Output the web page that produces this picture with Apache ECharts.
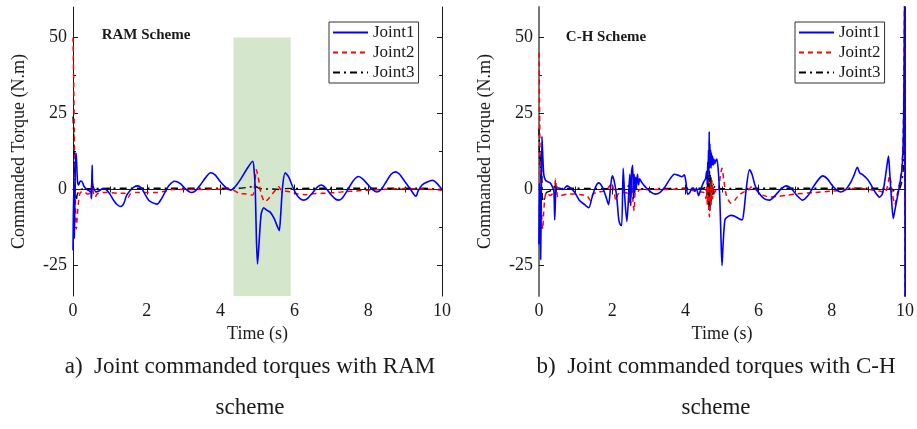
<!DOCTYPE html>
<html>
<head>
<meta charset="utf-8">
<script src="https://cdn.jsdelivr.net/npm/echarts@6/dist/echarts.min.js"></script>
<style>
  html, body { margin: 0; padding: 0; background: #fff; }
  #chart { width: 917px; height: 429px; }
</style>
</head>
<body>
<div id="chart"></div>
<script>
// tick labels
var xTicks = [0, 2, 4, 6, 8, 10];
var yMajorTicks = [-25, 0, 25, 50];
var yMinorTicks = [-12.5, 12.5, 37.5];
var seriesNames = ['Joint1', 'Joint2', 'Joint3'];
var highlightSpan = [4.35, 5.9];

// RAM scheme, [time, torque]
var ramJoint1 = [[0,-20],[0.02,2],[0.035,-16],[0.05,-5],[0.07,12],[0.09,11],[0.12,3],[0.15,1.5],[0.2,2.8],[0.25,2.5],[0.3,1],[0.38,0],[0.45,-0.5],[0.49,-1],[0.5,-3],[0.51,3],[0.52,8],[0.53,2],[0.56,0.5],[0.62,-0.8],[0.7,-0.5],[0.8,0.3],[0.9,0],[1.0,-1.5],[1.1,-3.5],[1.2,-5],[1.3,-5.6],[1.38,-4.5],[1.45,-2],[1.55,-0.3],[1.65,0.8],[1.75,1.2],[1.85,0.5],[1.95,-1.5],[2.05,-3.5],[2.15,-4.3],[2.28,-4.8],[2.4,-3],[2.5,-0.8],[2.6,1.3],[2.75,2.7],[2.9,2],[3.05,0.2],[3.2,-1],[3.3,-0.6],[3.45,1.5],[3.6,4],[3.73,5.5],[3.85,4.8],[4.0,2.5],[4.15,0.6],[4.27,-0.2],[4.4,1],[4.55,3.5],[4.7,6.5],[4.87,9.3],[4.91,6],[4.94,0],[4.97,-16],[5.0,-24.5],[5.04,-18],[5.1,-8],[5.17,-6],[5.25,-6.8],[5.35,-7.5],[5.45,-9.5],[5.55,-12.5],[5.59,-13.5],[5.63,-8],[5.68,1],[5.75,5.5],[5.85,4],[5.95,1],[6.05,-1.5],[6.15,-3],[6.25,-3.5],[6.35,-3],[6.5,-1],[6.62,0.8],[6.73,1.5],[6.85,0.5],[7.0,-1.8],[7.12,-3.2],[7.2,-3.5],[7.3,-2.8],[7.45,0],[7.6,3],[7.74,4.3],[7.85,3.5],[8.0,1.5],[8.12,0],[8.24,-0.8],[8.35,0],[8.5,2.8],[8.62,5],[8.74,5.8],[8.85,5],[9.0,2.5],[9.15,0],[9.25,-1.8],[9.3,-2.2],[9.35,-0.5],[9.46,1.5],[9.6,2.5],[9.75,3],[9.85,2.2],[9.95,0.8],[10,0]];
var ramJoint2 = [[0,50],[0.02,35],[0.04,14],[0.06,-2],[0.09,-13],[0.12,-8],[0.16,-3],[0.2,-1],[0.3,-0.8],[0.4,-1.5],[0.48,-1],[0.5,1],[0.52,3],[0.55,-1],[0.6,-2.5],[0.65,-1.5],[0.75,-1],[0.9,-1],[1.2,-1.2],[1.4,-1.2],[1.5,-2.5],[1.55,-1.5],[1.7,-1],[2.0,-1],[2.3,-1],[2.5,-0.5],[2.7,0],[3.0,0],[3.5,0],[4.0,0.1],[4.3,0],[4.5,-1.2],[4.7,-1.5],[4.87,-1.8],[4.92,1],[4.97,6.5],[5.02,4],[5.1,-1.5],[5.2,-4],[5.3,-3],[5.4,-1.5],[5.5,0],[5.57,1],[5.63,0],[5.75,-0.5],[5.9,-0.8],[6.1,-1.5],[6.3,-1.7],[6.5,-1.4],[7.0,-1.1],[7.5,-0.6],[8.0,-0.2],[8.5,0.1],[9.0,0.3],[9.5,0.2],[10,-0.2]];
var ramJoint3 = [[0,24],[0.02,18],[0.04,8],[0.06,0],[0.09,-3.5],[0.12,-1.5],[0.2,0],[0.3,0.2],[0.45,0.3],[0.49,0.3],[0.5,-3],[0.51,3],[0.53,0.3],[1,0.4],[2,0.4],[3,0.4],[4,0.4],[4.5,0.4],[4.95,1],[5.05,0.3],[5.6,0],[5.65,-1],[5.72,0.3],[6.5,0.4],[8,0.4],[9,0.4],[9.5,0.4],[10,0]];

// C-H scheme, [time, torque]
var chJoint1 = [[0,-18],[0.015,2],[0.03,-10],[0.045,-23],[0.06,-5],[0.08,17.5],[0.1,12],[0.13,5],[0.18,3],[0.25,2.5],[0.32,2],[0.38,0.5],[0.41,-1],[0.43,-10],[0.45,-3],[0.47,0.5],[0.55,0.5],[0.65,0],[0.77,1.2],[0.88,0.3],[0.98,-1],[1.1,-3.5],[1.25,-5],[1.36,-6],[1.45,-2.5],[1.55,1],[1.63,2.2],[1.72,1],[1.82,-2],[1.9,-5],[1.95,0],[2.0,4.5],[2.05,3],[2.12,-2],[2.18,-10],[2.22,-11.5],[2.26,-11.8],[2.3,7],[2.34,-2],[2.4,-10.5],[2.44,-4],[2.48,5],[2.5,-5],[2.53,6],[2.56,8],[2.58,-3],[2.6,5],[2.62,-1],[2.64,4],[2.66,0.5],[2.69,5],[2.72,1.5],[2.75,3.5],[2.8,2.5],[2.88,1.2],[2.98,0],[3.1,-1.2],[3.18,-1.5],[3.3,-1],[3.45,1],[3.58,3.5],[3.7,5],[3.82,4.6],[3.9,4.2],[3.97,4.8],[4.02,2],[4.06,-1.5],[4.12,-1],[4.18,0.5],[4.22,0.3],[4.26,-0.6],[4.3,0.5],[4.36,-2],[4.42,0],[4.5,2.5],[4.55,3.5],[4.58,6],[4.6,2],[4.61,9],[4.62,4],[4.63,13],[4.64,6],[4.65,19],[4.66,7],[4.67,15],[4.68,8],[4.69,13],[4.7,7],[4.71,12],[4.72,8],[4.74,11],[4.76,8],[4.78,10],[4.8,8.5],[4.83,9.5],[4.86,10],[4.9,6],[4.94,-3],[4.97,-15],[5.0,-25],[5.03,-18],[5.08,-10],[5.15,-9],[5.25,-8.5],[5.35,-8.8],[5.45,-9.5],[5.55,-10],[5.6,-7],[5.66,0],[5.75,6.5],[5.82,5],[5.9,1.5],[6.0,-1],[6.15,-3],[6.3,-3.5],[6.45,-2],[6.6,0],[6.75,1.2],[6.9,0.2],[7.05,-2],[7.2,-3.5],[7.35,-2],[7.5,1],[7.65,3.5],[7.75,4.5],[7.88,3.5],[8.0,1.5],[8.12,0],[8.25,-0.8],[8.38,0],[8.5,2],[8.6,4.5],[8.7,7.3],[8.76,5.5],[8.85,4.8],[9.0,3],[9.12,0.5],[9.22,-1.5],[9.3,-2.5],[9.38,-1.5],[9.45,3],[9.52,9],[9.55,11],[9.58,6],[9.63,-3],[9.68,-9.5],[9.72,-7],[9.8,-2],[9.86,2],[9.92,7],[9.96,20],[9.99,65],[10,-40]];
var chJoint2 = [[0,45],[0.02,22],[0.04,2],[0.06,-5],[0.08,-10],[0.1,-13],[0.13,-7],[0.17,-2],[0.22,-1],[0.3,-2],[0.4,-1.2],[0.43,-3],[0.45,3.5],[0.48,0],[0.52,-2.5],[0.6,-2],[0.8,-1.5],[1.0,-1.5],[1.2,-1.8],[1.32,-2.2],[1.4,-3.5],[1.48,-1.5],[1.6,-0.8],[1.8,-0.5],[1.92,1],[1.98,2],[2.04,0],[2.1,-3.5],[2.16,-1.5],[2.3,-1],[2.42,-1.2],[2.46,-3],[2.5,-5.5],[2.53,2],[2.56,-3],[2.6,-7],[2.63,-1],[2.68,-1.2],[2.75,0],[3.0,0],[3.5,0],[4.0,0.2],[4.2,-0.3],[4.4,-0.8],[4.5,-1],[4.56,-3],[4.58,1],[4.6,-5],[4.62,3],[4.64,-7],[4.66,-9],[4.68,2],[4.7,-5],[4.72,3],[4.74,-3],[4.76,1],[4.8,-1],[4.86,0.5],[4.9,0],[4.95,4],[5.0,7],[5.05,3],[5.12,-2],[5.2,-4],[5.25,-4.5],[5.35,-3.5],[5.45,-2],[5.6,-0.8],[5.72,-0.3],[5.8,0.8],[5.88,0.5],[6.0,-1],[6.15,-2],[6.3,-2.5],[6.5,-2.3],[6.8,-1.8],[7.0,-1.5],[7.5,-1],[8.0,-0.5],[8.3,-0.2],[8.7,0.5],[9.0,0],[9.3,-0.5],[9.45,-1],[9.52,1],[9.58,4.5],[9.65,-1],[9.72,-5],[9.78,-2],[9.85,2],[9.92,8],[9.96,25],[9.99,65],[10,-40]];
var chJoint3 = [[0,20],[0.02,8],[0.03,12],[0.05,3],[0.07,8],[0.09,-2],[0.11,-4],[0.15,-3],[0.2,-1],[0.3,-0.5],[0.4,0.2],[0.44,2.5],[0.46,-2],[0.48,1],[0.55,0.3],[1,0.4],[2,0.3],[2.4,0.3],[2.45,1.5],[2.48,-1.5],[2.51,2],[2.54,-1],[2.57,1.5],[2.6,0],[2.7,0.3],[3,0.3],[4,0.4],[4.5,0.4],[4.56,1],[4.58,-2],[4.6,3],[4.61,-4],[4.62,4],[4.63,-5],[4.64,5],[4.65,-6],[4.66,6],[4.67,-7],[4.68,5],[4.69,-5],[4.7,4],[4.71,-4],[4.72,3],[4.74,-3],[4.76,2],[4.78,-1.5],[4.8,1],[4.84,0.4],[5,0.3],[6,0.4],[7,0.4],[8,0.4],[9,0.4],[9.6,0.4],[9.7,-0.5],[9.78,-1.5],[9.85,0],[9.92,3],[9.96,8],[9.99,25],[10,0]];

var FONT = '"Liberation Serif", "Times New Roman", serif';
var INK = '#1a1a1a';

var grids = [
    { left: 73, top: 7, width: 369, height: 289 },
    { left: 539, top: 7, width: 368, height: 289 }
];

function xAxisPair(gridIndex) {
    var base = {
        gridIndex: gridIndex, type: 'value', min: 0, max: 10, interval: 2,
        axisLine: { lineStyle: { color: INK, width: 1 } },
        axisTick: { inside: true, length: 5, lineStyle: { color: INK } },
        minorTick: { show: true, splitNumber: 2, length: 3, lineStyle: { color: INK } },
        splitLine: { show: false }
    };
    return [
        Object.assign({}, base, {
            position: 'bottom',
            name: 'Time (s)', nameLocation: 'middle', nameGap: 27,
            nameTextStyle: { fontFamily: FONT, fontSize: 18, color: INK },
            axisLabel: { margin: 6, fontFamily: FONT, fontSize: 18, color: INK }
        }),
        Object.assign({}, base, { position: 'top', axisLabel: { show: false } })
    ];
}

function yAxisSet(gridIndex, leftLine) {
    var base = { gridIndex: gridIndex, type: 'value', min: -35, max: 60, splitLine: { show: false } };
    return [
        Object.assign({}, base, {
            position: 'left',
            name: 'Commanded Torque (N.m)', nameLocation: 'middle', nameGap: 45,
            nameTextStyle: { fontFamily: FONT, fontSize: 18, color: INK },
            axisLine: { lineStyle: leftLine },
            axisTick: { inside: true, length: 5, customValues: yMajorTicks, lineStyle: { color: INK } },
            axisLabel: { margin: 6, customValues: yMajorTicks, fontFamily: FONT, fontSize: 18, color: INK }
        }),
        Object.assign({}, base, {
            position: 'left',
            axisLine: { show: false },
            axisTick: { inside: true, length: 3, customValues: yMinorTicks, lineStyle: { color: INK } },
            axisLabel: { show: false }
        }),
        Object.assign({}, base, {
            position: 'right',
            axisLine: { lineStyle: { color: INK, width: 1 } },
            axisTick: { inside: true, length: 5, customValues: yMajorTicks, lineStyle: { color: INK } },
            axisLabel: { show: false }
        }),
        Object.assign({}, base, {
            position: 'right',
            axisLine: { show: false },
            axisTick: { inside: true, length: 3, customValues: yMinorTicks, lineStyle: { color: INK } },
            axisLabel: { show: false }
        })
    ];
}

var lineStyles = [
    { color: '#0000ff', width: 1.6, type: 'solid' },
    { color: '#ff0000', width: 1.5, type: [5, 4] },
    { color: '#000000', width: 1.4, type: [7, 4, 2, 4] }
];

function jointSeries(datasets, xIdx, yIdx) {
    return datasets.map(function (d, i) {
        return {
            type: 'line', name: seriesNames[i], data: d,
            xAxisIndex: xIdx, yAxisIndex: yIdx,
            symbol: 'none', smooth: 0.25, z: 3 + (2 - i),
            lineStyle: lineStyles[i], itemStyle: { color: lineStyles[i].color }
        };
    });
}

function legendAt(left) {
    return {
        data: seriesNames, orient: 'vertical', left: left, top: 22,
        itemWidth: 35, itemHeight: 12, itemGap: 3,
        padding: [2, 4, 2, 3],
        borderColor: '#333', borderWidth: 1, backgroundColor: '#fff',
        itemStyle: { opacity: 0 },
        textStyle: { fontFamily: FONT, fontSize: 17, lineHeight: 17, color: INK },
        selectedMode: false
    };
}

function caption(x, y, text, size, weight) {
    return {
        type: 'text', x: x, y: y,
        style: { text: text, fontFamily: FONT, fontSize: size, fontWeight: weight || 'normal',
                 fill: INK, textAlign: 'center', textVerticalAlign: 'middle' }
    };
}

var series = []
    .concat([{
        type: 'line', name: 'span', data: [], xAxisIndex: 0, yAxisIndex: 0, z: 1,
        markArea: {
            silent: true,
            itemStyle: { color: '#d4e7cd' },
            data: [[{ xAxis: highlightSpan[0], yAxis: -35 }, { xAxis: highlightSpan[1], yAxis: 50 }]]
        }
    }])
    .concat(jointSeries([ramJoint1, ramJoint2, ramJoint3], 0, 0))
    .concat(jointSeries([chJoint1, chJoint2, chJoint3], 2, 4));

var option = {
    animation: false,
    backgroundColor: '#fff',
    grid: grids,
    xAxis: xAxisPair(0).concat(xAxisPair(1)),
    yAxis: yAxisSet(0, { color: INK, width: 1 }).concat(yAxisSet(1, { color: '#777', width: 2 })),
    legend: [legendAt(329), legendAt(795)],
    series: series,
    graphic: [
        caption(146, 35, 'RAM Scheme', 15, 'bold'),
        caption(606, 37, 'C-H Scheme', 15, 'bold'),
        caption(250, 367, 'a)  Joint commanded torques with RAM', 23),
        caption(250, 408, 'scheme', 23),
        caption(716, 367, 'b)  Joint commanded torques with C-H', 23),
        caption(716, 408, 'scheme', 23)
    ]
};

var chart = echarts.init(document.getElementById('chart'));
chart.setOption(option);
</script>
</body>
</html>
